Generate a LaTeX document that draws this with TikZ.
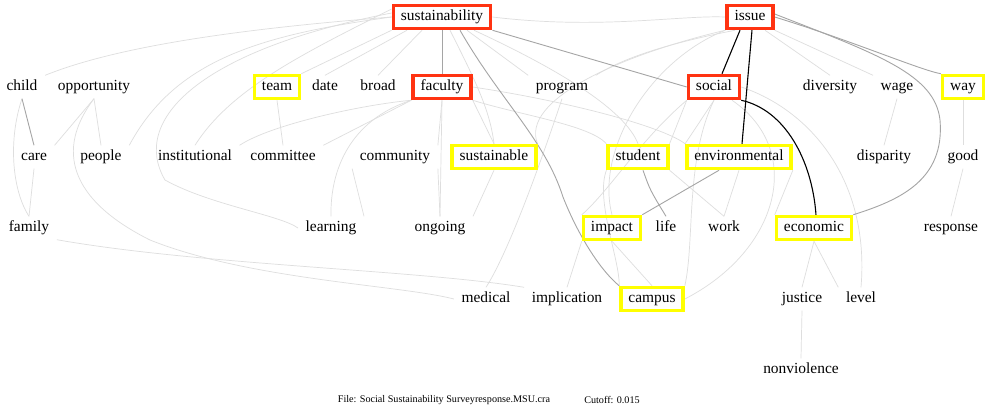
\documentclass[tikz,border=0pt]{standalone}
\usepackage{fontspec}
\setmainfont{Liberation Serif}
\pgfdeclarelayer{edges}
\pgfdeclarelayer{paper}
\pgfsetlayers{paper,edges,main}
\newcommand\wordfont{\fontsize{15.5}{18}\selectfont}
\newcommand\capfont{\fontsize{10.2}{12}\selectfont}
\definecolor{hubred}{RGB}{255,51,17}
\definecolor{keyyellow}{RGB}{255,255,0}
\definecolor{edgefaint}{RGB}{222,222,222}
\definecolor{edgemid}{RGB}{165,165,165}
\tikzset{
  word/.style={font=\wordfont, inner xsep=7.5bp, inner ysep=0bp,
    minimum height=23bp, text height=10.5bp, text depth=3.5bp},
  hub/.style={word, draw=hubred, line width=3.5bp},
  keyword/.style={word, draw=keyyellow, line width=3.5bp},
  faint/.style={draw=edgefaint, line width=0.7bp},
  mid/.style={draw=edgemid, line width=0.9bp},
  strong/.style={draw=black, line width=1.1bp},
}
\begin{document}
\begin{tikzpicture}[x=1bp,y=-1bp]
\begin{pgfonlayer}{paper}
\fill[white] (0,0) rectangle (986,408);
\end{pgfonlayer}
\useasboundingbox (0,0) rectangle (986,408);

% top-level terms
\node[hub] (S) at (442,17) {sustainability};
\node[hub] (I) at (750,17) {issue};

% second row
\node[word] (child) at (22,87) {child};
\node[word] (opportunity) at (94,87) {opportunity};
\node[keyword] (team) at (277,87) {team};
\node[word] (date) at (325,87) {date};
\node[word] (broad) at (378,87) {broad};
\node[hub] (faculty) at (442,87) {faculty};
\node[word] (program) at (562,87) {program};
\node[hub] (social) at (714,87) {social};
\node[word] (diversity) at (830,87) {diversity};
\node[word] (wage) at (897,87) {wage};
\node[keyword] (way) at (963,87) {way};

% third row
\node[word] (care) at (34,157) {care};
\node[word] (people) at (101,157) {people};
\node[word] (institutional) at (195,157) {institutional};
\node[word] (committee) at (283,157) {committee};
\node[word] (community) at (395,157) {community};
\node[keyword] (sustainable) at (494,157) {sustainable};
\node[keyword] (student) at (638,157) {student};
\node[keyword] (environmental) at (739,157) {environmental};
\node[word] (disparity) at (884,157) {disparity};
\node[word] (good) at (963,157) {good};

% fourth row
\node[word] (family) at (29,228) {family};
\node[word] (learning) at (331,228) {learning};
\node[word] (ongoing) at (440,228) {ongoing};
\node[keyword] (impact) at (612,228) {impact};
\node[word] (life) at (666,228) {life};
\node[word] (work) at (724,228) {work};
\node[keyword] (economic) at (814,228) {economic};
\node[word] (response) at (951,228) {response};

% fifth and sixth rows
\node[word] (medical) at (486,299) {medical};
\node[word] (implication) at (567,299) {implication};
\node[keyword] (campus) at (652,299) {campus};
\node[word] (justice) at (802,299) {justice};
\node[word] (level) at (861,299) {level};
\node[word] (nonviolence) at (801,370) {nonviolence};

% caption
\node[font=\capfont, inner sep=0pt] (file) at (444,400) {File: Social Sustainability Surveyresponse.MSU.cra};
\node[font=\capfont, inner sep=0pt] (cutoff) at (612,400) {Cutoff: 0.015};

\begin{pgfonlayer}{edges}
% weak links
\draw[faint] (S.west) .. controls (250,28) and (120,45) .. (child.north east);
\draw[faint] (S.west) .. controls (260,35) and (175,60) .. (people.north east);
\draw[faint] ([yshift=8bp]S.west) .. controls (300,55) and (230,90) .. (institutional.north);
\draw[faint] ([yshift=4bp]S.west) .. controls (200,50) and (130,120) .. (165,180)
   .. controls (210,205) and (280,215) .. (learning.west);
\draw[faint] (S.south west) -- (team.north east);
\draw[faint] ([xshift=-35bp]S.south) -- (date.north);
\draw[faint] ([xshift=-20bp]S.south) -- (broad.north);
\draw[faint] ([xshift=8bp]S.south) .. controls (475,80) and (490,110) .. (sustainable.north);
\draw[faint] ([xshift=25bp]S.south) -- (program.north west);
\draw[faint] ([xshift=32bp]S.south) .. controls (560,70) and (625,110) .. (student.north);
\draw[faint] (S.east) .. controls (600,30) and (680,15) .. (I.west);
\draw[faint] ([xshift=-15bp]I.south) .. controls (660,45) and (620,60) .. (program.north east);
\draw[faint] (I.south west) .. controls (620,55) and (520,100) .. (sustainable.north east);
\draw[faint] (I.south west) .. controls (650,60) and (595,150) .. (impact.north);
\draw[faint] ([xshift=15bp]I.south) -- (diversity.north);
\draw[faint] (I.south east) -- (wage.north west);
\draw[faint] (faculty.south west) .. controls (360,105) and (270,125) .. (institutional.north east);
\draw[faint] (faculty.south west) -- (committee.north east);
\draw[faint] (faculty.south) -- (community.north east);
\draw[faint] (faculty.south west) .. controls (350,120) and (330,170) .. (learning.north);
\draw[faint] (faculty.south) -- (ongoing.north);
\draw[faint] (faculty.south east) -- (sustainable.north);
\draw[faint] (faculty.south east) .. controls (520,115) and (590,125) .. (student.north west);
\draw[faint] (faculty.east) .. controls (560,100) and (660,125) .. (environmental.north west);
\draw[faint] (team.south) -- (committee.north);
\draw[faint] (community.south west) -- (learning.north east);
\draw[faint] (community.south east) -- (ongoing.north);
\draw[faint] (sustainable.south) -- (ongoing.north east);
\draw[faint] (program.south) .. controls (545,150) and (510,250) .. (medical.north);
\draw[faint] (child.south) .. controls (8,140) and (12,190) .. (family.north);
\draw[faint] (care.south) -- (family.north);
\draw[faint] (opportunity.south) -- (care.north east);
\draw[faint] (opportunity.south) -- (people.north);
\draw[faint] (opportunity.south) .. controls (55,150) and (70,200) .. (150,240)
   .. controls (250,280) and (400,285) .. (medical.west);
\draw[faint] (family.south east) .. controls (200,265) and (420,270) .. (implication.north west);
\draw[faint] (social.south west) -- (student.north east);
\draw[faint] (social.south) -- (environmental.north west);
\draw[faint] (social.south) .. controls (685,160) and (695,240) .. (campus.north east);
\draw[faint] ([xshift=18bp]social.south) .. controls (805,150) and (780,250) .. (campus.east);
\draw[faint] (social.east) .. controls (810,110) and (870,180) .. (level.north);
\draw[faint] (social.south west) .. controls (640,140) and (610,190) .. (impact.north west);
\draw[faint] (student.south east) -- (work.north);
\draw[faint] (environmental.south) -- (work.north);
\draw[faint] (environmental.south east) -- (economic.north west);
\draw[faint] (student.south west) .. controls (595,200) and (620,260) .. (campus.north west);
\draw[faint] (impact.south west) -- (implication.north);
\draw[faint] (impact.south) -- (campus.north);
\draw[faint] (economic.south) -- (justice.north);
\draw[faint] (economic.south) -- (level.north west);
\draw[faint] (justice.south) -- (nonviolence.north);
\draw[faint] (wage.south) -- (disparity.north);
\draw[faint] (way.south) -- (good.north);
\draw[faint] (good.south) -- (response.north);
% medium links
\draw[mid] (S.south) -- (faculty.north);
\draw[mid] (S.south east) -- (social.west);
\draw[mid] ([xshift=18bp]S.south) .. controls (500,100) and (545,140) .. (563,197)
   .. controls (578,235) and (600,270) .. (campus.north west);
\draw[mid] (child.south) -- (care.north);
\draw[mid] ([xshift=5bp]student.south) .. controls (650,190) .. (life.north);
\draw[mid] ([xshift=-20bp]environmental.south) -- (impact.north east);
\draw[mid] (I.east) .. controls (850,40) and (920,70) .. (way.north west);
\draw[mid] ([yshift=3bp]I.east) .. controls (880,55) and (935,75) .. (940,120)
   .. controls (945,180) and (900,200) .. (economic.north east);
% strong links
\draw[strong] ([xshift=-10bp]I.south) -- ([xshift=8bp]social.north);
\draw[strong] ([xshift=2bp]I.south) -- ([xshift=3bp]environmental.north);
\draw[strong] (social.south east) .. controls (785,110) and (812,160) .. ([xshift=2bp]economic.north);
\end{pgfonlayer}
\end{tikzpicture}
\end{document}
